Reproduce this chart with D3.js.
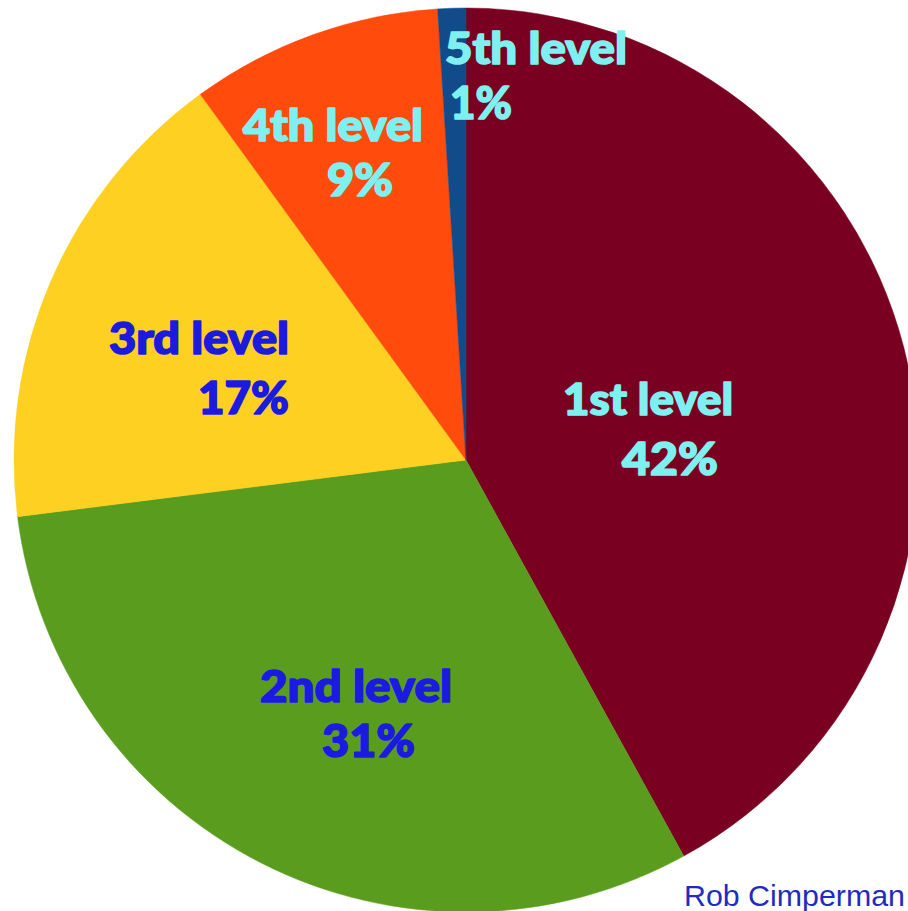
<!DOCTYPE html>
<html>
<head>
<meta charset="utf-8">
<script src="https://cdn.jsdelivr.net/npm/d3@7"></script>
<style>
  body { margin: 0; background: #fff; overflow: hidden; }
</style>
</head>
<body>
<svg class="pie" width="908" height="911"></svg>
<script>
// values
const levels = [ "1st level", "2nd level", "3rd level", "4th level", "5th level" ];
const shares = [ 42, 31, 17, 9, 1 ];
const sliceColors = [ "#7a0021", "#5a9d1e", "#fed021", "#ff4b0c", "#114b8a" ];
const labelColors = [ "#7ff0f0", "#1b1be0", "#1b1be0", "#7ff0f0", "#7ff0f0" ];

// where each two-line label sits (left x, baselines, widths)
const labelLayout = [
  { x1: 563, y1: 415, w1: 170, x2: 622, y2: 475, w2: 96 },
  { x1: 260, y1: 702, w1: 192, x2: 322, y2: 757, w2: 93 },
  { x1: 109, y1: 354, w1: 180, x2: 198, y2: 414, w2: 91 },
  { x1: 243, y1: 141, w1: 180, x2: 327, y2: 196, w2: 66 },
  { x1: 445, y1: 64, w1: 182, x2: 450, y2: 119, w2: 62 }
];

function pie_chart(svg){

  const cx = 466, cy = 460, radius = 452;

  const table = levels.map((d, i) => ({ level: d, share: shares[i], i: i }));

  const pie = d3.pie()
    .value(d => d.share)
    .sort(null);

  const arc = d3.arc()
    .innerRadius(0)
    .outerRadius(radius);

  const g = svg.append("g")
    .attr("transform", "translate(" + cx + "," + cy + ")");

  g.selectAll("path")
    .data(pie(table)).enter()
    .append("path")
    .attr("d", arc)
    .attr("fill", d => sliceColors[d.data.i])
    .attr("stroke", d => sliceColors[d.data.i])
    .attr("stroke-width", 0.5);

  const labels = svg.append("g")
    .attr("font-family", "Lato, 'DejaVu Sans', sans-serif")
    .attr("font-weight", 900)
    .attr("stroke-width", 1.6)
    .attr("stroke-linejoin", "round");

  table.forEach(function(d){
    const p = labelLayout[d.i];
    labels.append("text")
      .attr("x", p.x1).attr("y", p.y1)
      .attr("font-size", 44)
      .attr("fill", labelColors[d.i])
      .attr("stroke", labelColors[d.i])
      .attr("textLength", p.w1)
      .attr("lengthAdjust", "spacingAndGlyphs")
      .text(d.level);
    labels.append("text")
      .attr("x", p.x2).attr("y", p.y2)
      .attr("font-size", 45)
      .attr("fill", labelColors[d.i])
      .attr("stroke", labelColors[d.i])
      .attr("textLength", p.w2)
      .attr("lengthAdjust", "spacingAndGlyphs")
      .text(d.share + "%");
  });

  svg.append("text")
    .attr("x", 684)
    .attr("y", 906)
    .attr("font-family", "Arial, 'Liberation Sans', sans-serif")
    .attr("font-size", 30)
    .attr("fill", "#1f2cc0")
    .attr("textLength", 221)
    .attr("lengthAdjust", "spacingAndGlyphs")
    .text("Rob Cimperman");

  return svg.node();
}

pie_chart(d3.select("svg.pie"));
</script>
</body>
</html>
